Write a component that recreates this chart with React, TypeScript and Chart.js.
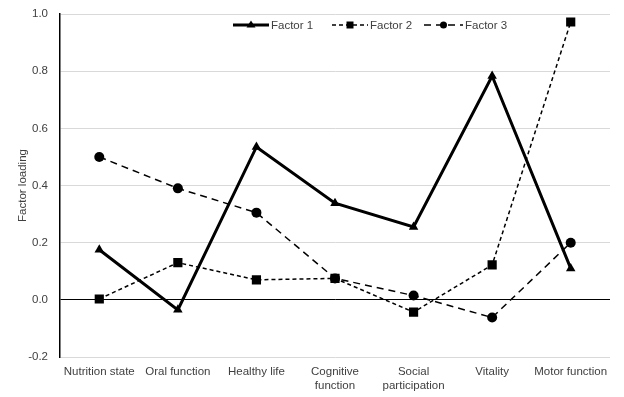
import React, { useEffect, useRef } from "react";
import { Chart, registerables } from "chart.js";

Chart.register(...registerables);

const categories: (string | string[])[] = [
  "Nutrition state",
  "Oral function",
  "Healthy life",
  ["Cognitive", "function"],
  ["Social", "participation"],
  "Vitality",
  "Motor function",
];
const factor1 = [0.175, -0.035, 0.535, 0.338, 0.255, 0.783, 0.11];
const factor2 = [0.003, 0.13, 0.07, 0.075, -0.043, 0.122, 0.972];
const factor3 = [0.5, 0.39, 0.305, 0.075, 0.015, -0.062, 0.2];
const seriesNames = ["Factor 1", "Factor 2", "Factor 3"];
const yTicks = [-0.2, 0.0, 0.2, 0.4, 0.6, 0.8, 1.0];

const FONT = "'Liberation Sans', Arial, sans-serif";
const legendStarts = [233, 332, 424];

const legendPlugin = {
  id: "customLegend",
  afterDraw(chart: any) {
    const ctx = chart.ctx;
    const y = 25;
    ctx.save();
    ctx.font = `11.5px ${FONT}`;
    ctx.textBaseline = "middle";
    chart.data.datasets.forEach((ds: any, i: number) => {
      const x = legendStarts[i];
      const lineLen = i === 2 ? 39 : 36;
      ctx.strokeStyle = "#000";
      ctx.lineWidth = ds.borderWidth;
      ctx.setLineDash(ds.borderDash || []);
      ctx.beginPath();
      ctx.moveTo(x, y);
      ctx.lineTo(x + lineLen, y);
      ctx.stroke();
      ctx.setLineDash([]);
      ctx.fillStyle = "#000";
      const cx = x + lineLen / 2;
      ctx.beginPath();
      if (ds.pointStyle === "triangle") {
        ctx.moveTo(cx, y - 4.5);
        ctx.lineTo(cx + 4.5, y + 2.5);
        ctx.lineTo(cx - 4.5, y + 2.5);
        ctx.closePath();
      } else if (ds.pointStyle === "rect") {
        ctx.rect(cx - 3.5, y - 3.5, 7, 7);
      } else {
        ctx.arc(cx, y, 3.5, 0, Math.PI * 2);
      }
      ctx.fill();
      ctx.fillStyle = "#404040";
      ctx.textAlign = "left";
      ctx.fillText(ds.label, x + lineLen + 2, y + 0.5);
    });
    ctx.restore();
  },
};

export default function App() {
  const ref = useRef<HTMLCanvasElement>(null);
  useEffect(() => {
    document.body.style.margin = "0";
    const chart = new Chart(ref.current!, {
      type: "line",
      data: {
        labels: categories,
        datasets: [
          {
            label: seriesNames[0],
            data: factor1,
            borderColor: "#000",
            backgroundColor: "#000",
            borderWidth: 3,
            pointStyle: "triangle",
            pointRadius: 5.5,
            pointBorderWidth: 0,
            tension: 0,
          },
          {
            label: seriesNames[1],
            data: factor2,
            borderColor: "#000",
            backgroundColor: "#000",
            borderWidth: 1.5,
            borderDash: [4, 3],
            pointStyle: "rect",
            pointRadius: 6.5,
            pointBorderWidth: 0,
            tension: 0,
          },
          {
            label: seriesNames[2],
            data: factor3,
            borderColor: "#000",
            backgroundColor: "#000",
            borderWidth: 1.5,
            borderDash: [7, 5],
            pointStyle: "circle",
            pointRadius: 5,
            pointBorderWidth: 0,
            tension: 0,
          },
        ],
      },
      options: {
        animation: false,
        responsive: false,
        maintainAspectRatio: false,
        layout: { padding: { top: 14, right: 14, left: 16, bottom: 0 } },
        plugins: {
          legend: { display: false },
          tooltip: { enabled: false },
        },
        scales: {
          x: {
            offset: true,
            grid: { display: false, drawTicks: false },
            border: { display: false },
            ticks: {
              color: "#404040",
              font: { family: FONT, size: 11.5 },
              padding: 8,
              maxRotation: 0,
              autoSkip: false,
            },
            afterFit: (s: any) => {
              s.height = 40;
              s.paddingLeft = 0;
              s.paddingRight = 0;
            },
          },
          y: {
            min: -0.2,
            max: 1.0,
            afterBuildTicks: (s: any) => {
              s.ticks = yTicks.map((v) => ({ value: v }));
            },
            grid: {
              drawTicks: false,
              color: (c: any) =>
                c.tick && Math.abs(c.tick.value) < 1e-9 ? "#000" : "#d9d9d9",
              lineWidth: 1,
            },
            border: { display: true, color: "#000", width: 1.5 },
            ticks: {
              color: "#404040",
              font: { family: FONT, size: 11.5 },
              padding: 12,
              callback: (v: any) => Number(v).toFixed(1),
            },
            title: {
              display: true,
              text: "Factor loading",
              color: "#404040",
              font: { family: FONT, size: 11.5 },
              padding: 0,
            },
            afterFit: (s: any) => {
              s.width = 44;
              s.paddingTop = 0;
              s.paddingBottom = 0;
            },
          },
        },
      },
      plugins: [legendPlugin],
    });
    return () => chart.destroy();
  }, []);
  return (
    <div style={{ width: 624, height: 397, background: "#fff" }}>
      <canvas ref={ref} width={624} height={397} />
    </div>
  );
}
